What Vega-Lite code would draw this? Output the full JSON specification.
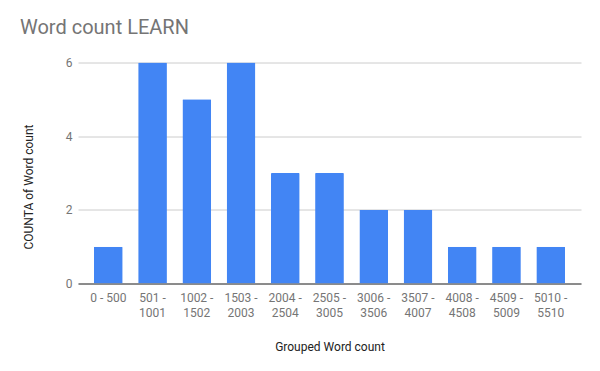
{
  "$schema": "https://vega.github.io/schema/vega-lite/v6.json",
  "width": 503,
  "height": 221,
  "autosize": {"type": "none"},
  "padding": {"left": 78, "top": 62.5, "right": 19, "bottom": 88},
  "background": "white",
  "title": {
    "text": "Word count LEARN",
    "anchor": "start",
    "frame": "group",
    "dx": -58,
    "offset": 25.5,
    "baseline": "alphabetic",
    "dy": 22.5,
    "font": "Roboto",
    "fontSize": 20,
    "fontWeight": "normal",
    "color": "#757575"
  },
  "data": {
    "values": [
      {"group": "0 - 500", "count": 1},
      {"group": "501 - 1001", "count": 6},
      {"group": "1002 - 1502", "count": 5},
      {"group": "1503 - 2003", "count": 6},
      {"group": "2004 - 2504", "count": 3},
      {"group": "2505 - 3005", "count": 3},
      {"group": "3006 - 3506", "count": 2},
      {"group": "3507 - 4007", "count": 2},
      {"group": "4008 - 4508", "count": 1},
      {"group": "4509 - 5009", "count": 1},
      {"group": "5010 - 5510", "count": 1}
    ]
  },
  "mark": {"type": "bar", "color": "#4285F4", "cornerRadiusTopLeft": 1, "cornerRadiusTopRight": 1},
  "encoding": {
    "x": {
      "field": "group",
      "type": "nominal",
      "sort": null,
      "scale": {"paddingInner": 0.35, "paddingOuter": 0.36},
      "axis": {
        "title": "Grouped Word count",
        "labelAngle": 0,
        "labelExpr": "length(datum.label) > 7 ? [split(datum.label, ' - ')[0] + ' -', split(datum.label, ' - ')[1]] : datum.label",
        "labelLineHeight": 15,
        "labelFont": "Roboto",
        "labelFontSize": 12,
        "labelColor": "#757575",
        "labelPadding": 9,
        "ticks": false,
        "domainColor": "#333333",
        "domainWidth": 1,
        "titleFont": "Roboto",
        "titleFontSize": 12,
        "titleFontWeight": "normal",
        "titleColor": "#222222",
        "titleBaseline": "alphabetic",
        "titleY": 67
      }
    },
    "y": {
      "field": "count",
      "type": "quantitative",
      "scale": {"domain": [0, 6]},
      "axis": {
        "title": "COUNTA of Word count",
        "values": [0, 2, 4, 6],
        "domain": false,
        "ticks": false,
        "labelPadding": 6,
        "labelFont": "Roboto",
        "labelFontSize": 12,
        "labelColor": "#757575",
        "gridColor": "#cccccc",
        "titleFont": "Roboto",
        "titleFontSize": 12,
        "titleFontWeight": "normal",
        "titleColor": "#222222",
        "titleBaseline": "alphabetic",
        "titleAlign": "center",
        "titleX": -46,
        "titleY": 124
      }
    }
  },
  "config": {"view": {"stroke": null}}
}
